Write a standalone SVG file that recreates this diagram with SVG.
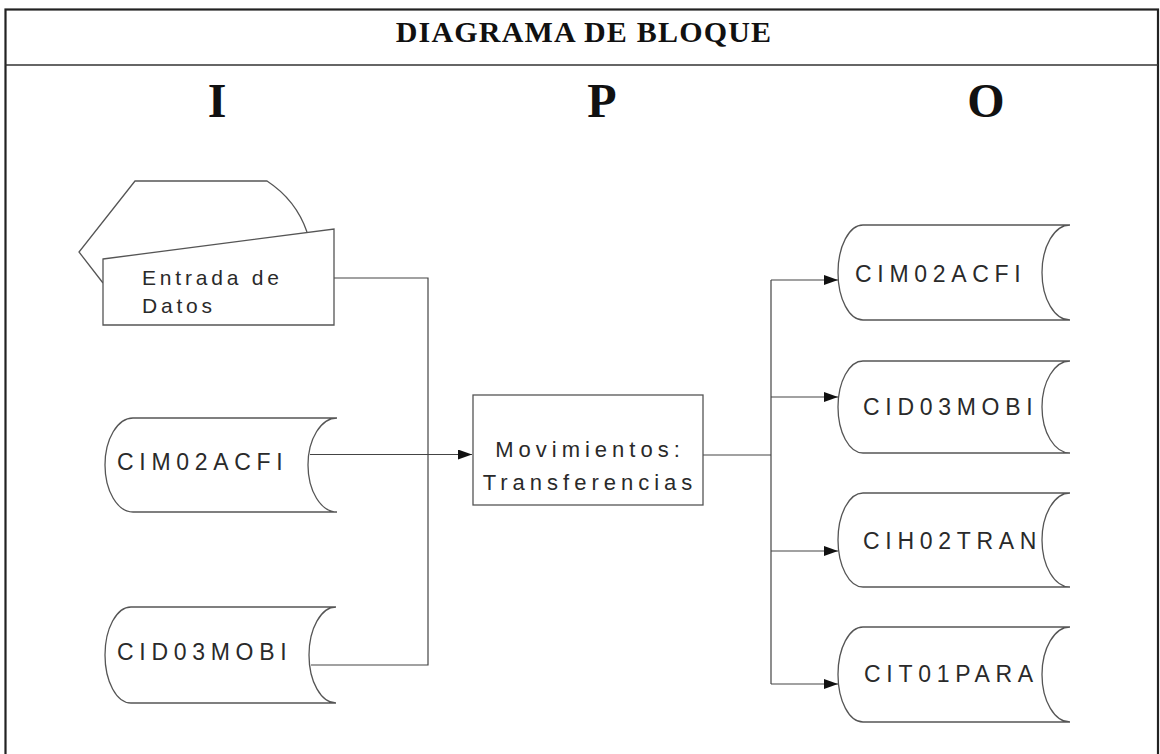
<svg xmlns="http://www.w3.org/2000/svg" width="1160" height="754" viewBox="0 0 1160 754">
  <defs>
    <marker id="arr" markerUnits="userSpaceOnUse" markerWidth="16" markerHeight="12" refX="14" refY="5" orient="auto">
      <path d="M0,0 L14,5 L0,10 Z" fill="#111"/>
    </marker>
    <style>
      .shape { fill: #fff; stroke: #555; stroke-width: 1.3; }
      .conn { fill: none; stroke: #444; stroke-width: 1.2; }
      .lbl { font-family: "Liberation Sans", Arial, sans-serif; font-size: 23px; letter-spacing: 5.7px; fill: #2a2a2a; }
      .lbl2 { font-family: "Liberation Sans", Arial, sans-serif; font-size: 21px; letter-spacing: 3.8px; fill: #2a2a2a; }
      .proc { font-family: "Liberation Sans", Arial, sans-serif; font-size: 22px; letter-spacing: 5px; fill: #2a2a2a; text-anchor: middle; }
      .title { font-family: "Liberation Serif", "Times New Roman", serif; font-weight: bold; font-size: 30px; letter-spacing: 1.2px; fill: #111; text-anchor: middle; }
      .ipo { font-family: "Liberation Serif", "Times New Roman", serif; font-weight: bold; font-size: 48px; fill: #111; text-anchor: middle; }
    </style>
  </defs>
  <rect x="0" y="0" width="1160" height="754" fill="#fff"/>

  <g id="frame">
    <rect x="5.5" y="9.5" width="1152.5" height="760" fill="none" stroke="#222" stroke-width="2.2"/>
    <line x1="5.5" y1="65" x2="1158" y2="65" stroke="#333" stroke-width="1.6"/>
    <text class="title" x="584" y="41.5">DIAGRAMA DE BLOQUE</text>
    <text class="ipo" x="217" y="117">I</text>
    <text class="ipo" x="602" y="117">P</text>
    <text class="ipo" x="986" y="117">O</text>
  </g>

  <g id="connectors">
    <polyline class="conn" points="334,278 428,278 428,665 311,665"/>
    <line class="conn" x1="310" y1="454.5" x2="472" y2="454.5" marker-end="url(#arr)"/>
    <line class="conn" x1="703" y1="455" x2="771" y2="455"/>
    <line class="conn" x1="771" y1="280" x2="771" y2="684"/>
    <line class="conn" x1="771" y1="280" x2="838" y2="280" marker-end="url(#arr)"/>
    <line class="conn" x1="771" y1="397" x2="838" y2="397" marker-end="url(#arr)"/>
    <line class="conn" x1="771" y1="551" x2="838" y2="551" marker-end="url(#arr)"/>
    <line class="conn" x1="771" y1="684" x2="838" y2="684" marker-end="url(#arr)"/>
  </g>

  <g id="entrada-datos">
    <path class="shape" d="M103,283 L79,252 L135,181 H267 Q296,200 307,232"/>
    <polygon class="shape" points="103,259 334,229 334,325 103,325"/>
    <text class="lbl2" x="142" y="285">Entrada de</text>
    <text class="lbl2" x="142" y="313">Datos</text>
  </g>

  <g id="in-cim02acfi">
    <path class="shape" d="M133,418 H337 A29 47 0 0 0 337,512 H133 A28 47 0 0 1 133,418 Z"/>
    <text class="lbl" x="117" y="470">CIM02ACFI</text>
  </g>

  <g id="in-cid03mobi">
    <path class="shape" d="M131,607 H336 A27 48 0 0 0 336,703 H131 A26 48 0 0 1 131,607 Z"/>
    <text class="lbl" x="117" y="660">CID03MOBI</text>
  </g>

  <g id="proceso">
    <rect class="shape" x="473" y="395" width="230" height="110"/>
    <text class="proc" x="590" y="457">Movimientos:</text>
    <text class="proc" x="590" y="490">Transferencias</text>
  </g>

  <g id="out-cim02acfi">
    <path class="shape" d="M863,225 H1070 A28 47.5 0 0 0 1070,320 H863 A25 47.5 0 0 1 863,225 Z"/>
    <text class="lbl" x="855" y="282">CIM02ACFI</text>
  </g>

  <g id="out-cid03mobi">
    <path class="shape" d="M863,361 H1070 A28 46 0 0 0 1070,453 H863 A25 46 0 0 1 863,361 Z"/>
    <text class="lbl" x="863" y="415">CID03MOBI</text>
  </g>

  <g id="out-cih02tran">
    <path class="shape" d="M863,493 H1070 A28 47 0 0 0 1070,587 H863 A25 47 0 0 1 863,493 Z"/>
    <text class="lbl" x="863" y="549">CIH02TRAN</text>
  </g>

  <g id="out-cit01para">
    <path class="shape" d="M863,627 H1070 A28 47.5 0 0 0 1070,722 H863 A25 47.5 0 0 1 863,627 Z"/>
    <text class="lbl" x="864" y="682">CIT01PARA</text>
  </g>
</svg>
